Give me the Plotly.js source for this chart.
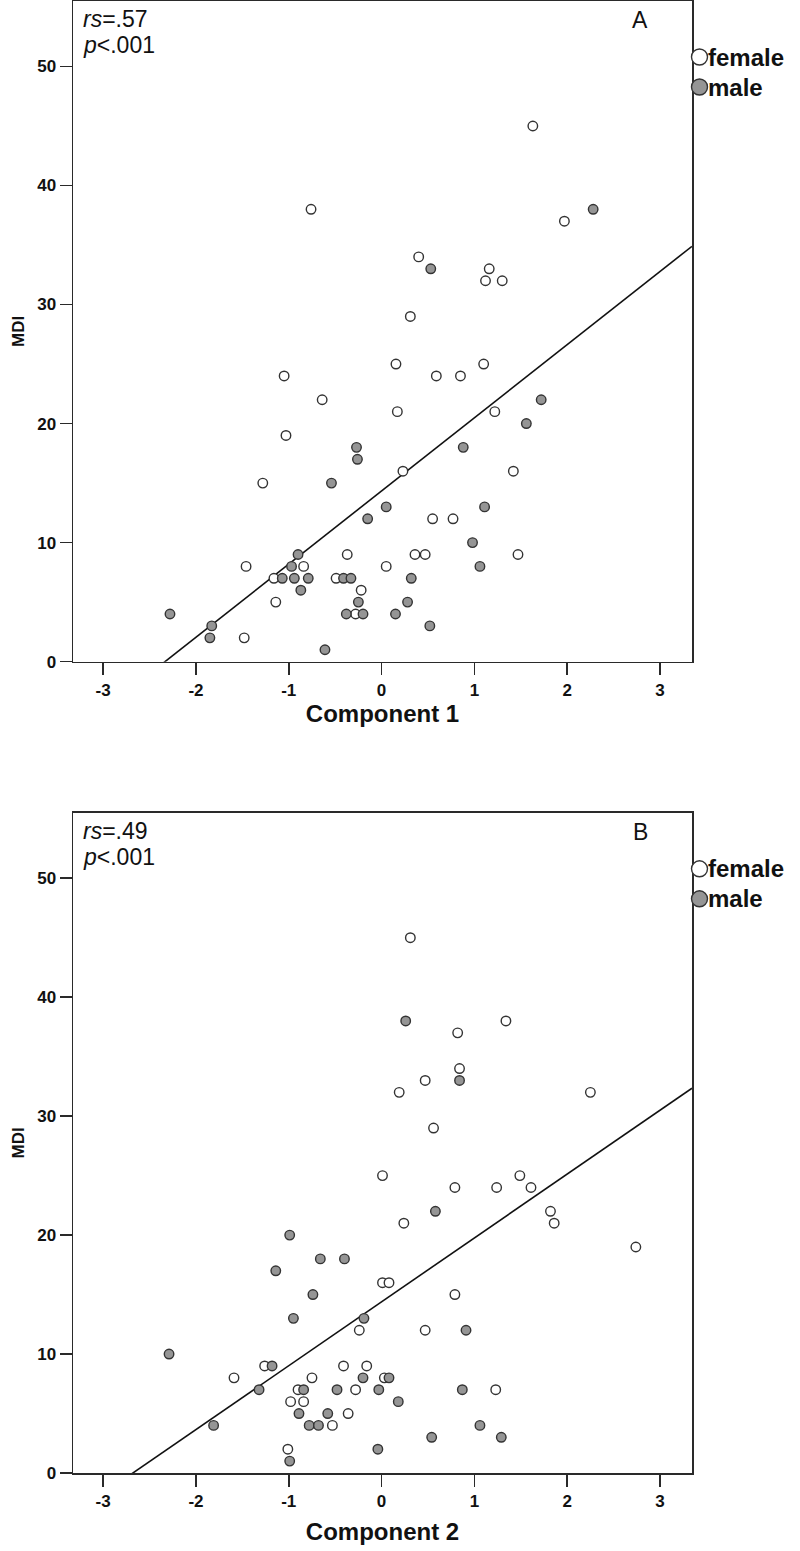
<!DOCTYPE html>
<html>
<head>
<meta charset="utf-8">
<script src="https://cdn.plot.ly/plotly-3.0.1.min.js"></script>
<style>
  html, body { margin: 0; padding: 0; background: #ffffff; }
  #chart { width: 800px; height: 1551px; }
</style>
</head>
<body>
<div id="chart"></div>
<script>
// ---------- Panel A: Component 1 vs MDI ----------
const femaleA_x = [-1.28, -1.46, -0.84, -1.16, -0.49, -1.14, -1.48, 0.55, 0.77, -0.37, 0.36, 0.47, 1.47, 0.05, -0.22, -0.28,
  -1.05, 0.155, 0.59, 0.85, 1.10, -0.64, 0.17, 1.22, -1.03, 0.23, 1.42, -0.76, 0.40, 1.16, 1.12, 1.30, 0.31, 1.63, 1.97];
const femaleA_y = [15, 8, 8, 7, 7, 5, 2, 12, 12, 9, 9, 9, 9, 8, 6, 4,
  24, 25, 24, 24, 25, 22, 21, 21, 19, 16, 16, 38, 34, 33, 32, 32, 29, 45, 37];
const maleA_x = [-0.54, -0.90, -0.97, -1.07, -0.94, -0.79, -0.87, -2.28, -1.83, -1.85, -0.61, 0.05, -0.15, 1.11, 0.98, 1.06,
  -0.41, -0.33, 0.32, -0.25, 0.28, -0.38, -0.20, 0.15, 0.52, 1.72, 1.56, -0.27, -0.26, 0.88, 0.53, 2.28];
const maleA_y = [15, 9, 8, 7, 7, 7, 6, 4, 3, 2, 1, 13, 12, 13, 10, 8,
  7, 7, 7, 5, 5, 4, 4, 4, 3, 22, 20, 18, 17, 18, 33, 38];
const fitA_slope = 6.145;
const fitA_intercept = 14.34;
const statsA = ["<i>rs</i>=.57", "<i>p</i>&lt;.001"];
const panelA_label = "A";
const xTitleA = "Component 1";

// ---------- Panel B: Component 2 vs MDI ----------
const femaleB_x = [-1.26, -1.59, -0.75, -0.41, -0.90, -0.98, -0.84, -0.36, -0.53, -1.01, -0.24, 0.47, -0.16, 0.03, -0.28, 1.23,
  0.01, 0.79, 0.24, 0.01, 0.08, 0.79, 0.31, 1.34, 0.82, 0.84, 0.47, 0.19, 0.56, 2.25, 1.49, 1.24, 1.61, 1.82, 1.86, 2.74];
const femaleB_y = [9, 8, 8, 9, 7, 6, 6, 5, 4, 2, 12, 12, 9, 8, 7, 7,
  25, 24, 21, 16, 16, 15, 45, 38, 37, 34, 33, 32, 29, 32, 25, 24, 24, 22, 21, 19];
const maleB_x = [-0.95, -2.29, -1.18, -1.32, -0.84, -0.48, -0.89, -0.58, -1.81, -0.78, -0.68, -0.99, -0.19, 0.91, -0.20, 0.08,
  -0.03, 0.87, 0.18, 1.06, 0.54, 1.29, -0.04, 0.58, -0.99, -0.66, -0.40, -1.14, -0.74, 0.26, 0.84];
const maleB_y = [13, 10, 9, 7, 7, 7, 5, 5, 4, 4, 4, 1, 13, 12, 8, 8,
  7, 7, 6, 4, 3, 3, 2, 22, 20, 18, 18, 17, 15, 38, 33];
const fitB_slope = 5.37;
const fitB_intercept = 14.39;
const statsB = ["<i>rs</i>=.49", "<i>p</i>&lt;.001"];
const panelB_label = "B";
const xTitleB = "Component 2";

const yTitle = "MDI";
const xTicks = [-3, -2, -1, 0, 1, 2, 3];
const xTickText = ["-3", "-2", "-1", "0", "1", "2", "3"];
const yTicks = [0, 10, 20, 30, 40, 50];
const yTickText = ["0", "10", "20", "30", "40", "50"];
const legendNames = ["female", "male"];

// ---------- styling ----------
const xRange = [-3.325, 3.345];
const yRange = [0, 55.5];
const FONT = "Liberation Sans, Arial, sans-serif";
const openFill = "#ffffff";
const maleFill = "#959595";
const edge = "#333333";
const frame = "#2a2a2a";
const ink = "#111111";

function pts(x, y, fill, name, xa, ya) {
  return {
    type: "scatter", mode: "markers", x: x, y: y, name: name,
    xaxis: xa, yaxis: ya, showlegend: false, cliponaxis: false,
    marker: { size: 9.5, color: fill, line: { color: edge, width: 1.4 } },
    hoverinfo: "x+y"
  };
}
function fit(slope, intercept, xa, ya) {
  const xs = [xRange[0], xRange[1]];
  return {
    type: "scatter", mode: "lines", x: xs, y: xs.map(v => intercept + slope * v),
    xaxis: xa, yaxis: ya, showlegend: false, hoverinfo: "skip",
    line: { color: ink, width: 1.6 }
  };
}

const data = [
  fit(fitA_slope, fitA_intercept, "x", "y"),
  pts(femaleA_x, femaleA_y, openFill, "female", "x", "y"),
  pts(maleA_x, maleA_y, maleFill, "male", "x", "y"),
  fit(fitB_slope, fitB_intercept, "x2", "y2"),
  pts(femaleB_x, femaleB_y, openFill, "female", "x2", "y2"),
  pts(maleB_x, maleB_y, maleFill, "male", "x2", "y2")
];

const tickFont = { family: FONT, size: 17, color: ink, weight: "bold" };
const titleFont = { family: FONT, size: 24, color: ink, weight: "bold" };

function xAxis(anchor, title, standoff) {
  return {
    anchor: anchor, domain: [0, 1], range: xRange, tickvals: xTicks, ticktext: xTickText,
    ticks: "outside", ticklen: 12, tickwidth: 1.5, tickcolor: frame,
    showline: true, mirror: true, linecolor: frame, linewidth: 1.5,
    showgrid: false, zeroline: false, tickfont: tickFont,
    title: { text: title, font: titleFont, standoff: standoff }
  };
}
function yAxis(anchor, domain) {
  return {
    anchor: anchor, domain: domain, range: yRange, tickvals: yTicks, ticktext: yTickText,
    ticks: "outside", ticklen: 12, tickwidth: 1.5, tickcolor: frame,
    showline: true, mirror: true, linecolor: frame, linewidth: 1.5,
    showgrid: false, zeroline: false, tickfont: tickFont,
    title: { text: yTitle, font: { family: FONT, size: 17, color: ink, weight: "bold" }, standoff: 8 }
  };
}

const annotations = [];
const shapes = [];
function panelDecor(ya, stats, label) {
  const yref = ya + " domain";
  const xref = (ya === "y" ? "x" : "x2") + " domain";
  annotations.push({ xref: xref, yref: yref, x: 0, y: 1, xshift: 8, yshift: -18, xanchor: "left", yanchor: "middle",
    text: stats[0], showarrow: false, font: { family: FONT, size: 23, color: ink } });
  annotations.push({ xref: xref, yref: yref, x: 0, y: 1, xshift: 8, yshift: -44, xanchor: "left", yanchor: "middle",
    text: stats[1], showarrow: false, font: { family: FONT, size: 23, color: ink } });
  annotations.push({ xref: xref, yref: yref, x: 0, y: 1, xshift: 567, yshift: -19, xanchor: "center", yanchor: "middle",
    text: label, showarrow: false, font: { family: FONT, size: 23, color: ink } });
  const rows = [{ fill: openFill, dy: -56, name: legendNames[0] }, { fill: maleFill, dy: -86, name: legendNames[1] }];
  rows.forEach(r => {
    shapes.push({ type: "circle", xref: "paper", yref: yref, xsizemode: "pixel", ysizemode: "pixel",
      xanchor: 1, yanchor: 1, x0: -0.5, x1: 15.5, y0: r.dy - 8, y1: r.dy + 8,
      fillcolor: r.fill, line: { color: edge, width: 1.4 } });
    annotations.push({ xref: "paper", yref: yref, x: 1, y: 1, xshift: 14, yshift: r.dy, xanchor: "left", yanchor: "middle",
      text: r.name, showarrow: false, font: { family: FONT, size: 24, color: ink, weight: "bold" } });
  });
}
panelDecor("y", statsA, panelA_label);
panelDecor("y2", statsB, panelB_label);

const layout = {
  width: 800, height: 1551,
  margin: { l: 73, r: 108, t: 1, b: 78 },
  paper_bgcolor: "#ffffff", plot_bgcolor: "#ffffff",
  showlegend: false,
  xaxis: xAxis("y", xTitleA, 4),
  yaxis: yAxis("x", [0.5512, 1]),
  xaxis2: xAxis("y2", xTitleB, 13),
  yaxis2: yAxis("x2", [0, 0.4485]),
  annotations: annotations,
  shapes: shapes,
  font: { family: FONT }
};

Plotly.newPlot("chart", data, layout, { displayModeBar: false, staticPlot: true });
</script>
</body>
</html>
